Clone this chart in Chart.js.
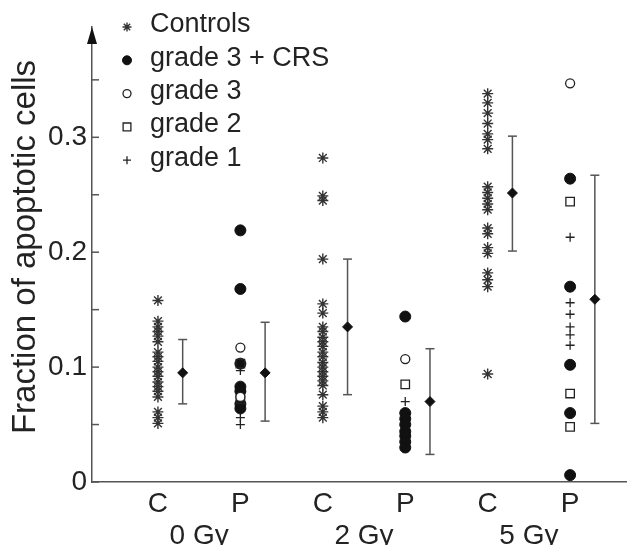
<!DOCTYPE html>
<html>
<head>
<meta charset="utf-8">
<script src="https://cdn.jsdelivr.net/npm/chart.js@4.4.1/dist/chart.umd.min.js"></script>
<style>
  html, body { margin: 0; padding: 0; background: #fff; }
  #wrap { width: 627px; height: 545px; }
</style>
</head>
<body>
<div id="wrap"><canvas id="chart" width="627" height="545"></canvas></div>
<script>
// x axis: control / patient column at each dose
const categories = ['C', 'P', 'C', 'P', 'C', 'P'];
const doses = ['0 Gy', '2 Gy', '5 Gy'];
const yTicks = [0, 0.1, 0.2, 0.3];

// controls (asterisks)
const controls0 = [0.158, 0.140, 0.135, 0.131, 0.127, 0.122, 0.113, 0.109, 0.105, 0.100,
                   0.096, 0.092, 0.087, 0.083, 0.079, 0.074, 0.061, 0.056, 0.051];
const controls2 = [0.282, 0.249, 0.245, 0.194, 0.155, 0.147, 0.135, 0.131, 0.126, 0.122,
                   0.118, 0.113, 0.109, 0.104, 0.100, 0.096, 0.092, 0.088, 0.084, 0.076,
                   0.066, 0.061, 0.056];
const controls5 = [0.338, 0.330, 0.321, 0.312, 0.303, 0.298, 0.290, 0.257, 0.252, 0.247,
                   0.242, 0.237, 0.221, 0.216, 0.204, 0.199, 0.182, 0.176, 0.170, 0.094];

// patients, by grade
const crs0 = [0.219, 0.168, 0.103, 0.083, 0.079, 0.068, 0.064];
const crs2 = [0.144, 0.060, 0.055, 0.050, 0.044, 0.040, 0.035, 0.030];
const crs5 = [0.264, 0.170, 0.102, 0.060, 0.006];
const g3_0 = [0.117, 0.074];
const g3_2 = [0.107];
const g3_5 = [0.347];
const g2_0 = [0.103, 0.072];
const g2_2 = [0.085];
const g2_5 = [0.244, 0.077, 0.048];
const g1_0 = [0.097, 0.056, 0.050];
const g1_2 = [0.070];
const g1_5 = [0.213, 0.156, 0.146, 0.135, 0.128, 0.119];

// mean and spread per column
const means   = [0.095, 0.095, 0.135, 0.070, 0.2515, 0.159];
const errLow  = [0.068, 0.053, 0.076, 0.024, 0.201, 0.051];
const errHigh = [0.124, 0.139, 0.194, 0.116, 0.301, 0.267];

const INK = '#232323';
const AXIS = '#555';
const FONT = '"Liberation Sans", Arial, sans-serif';
const barOffset = 0.3;

const col = (vals, pos) => vals.map(v => ({ x: pos, y: v }));
const spread = (a, b, c) => [...col(a, 1), ...col(b, 3), ...col(c, 5)];
const patients = (a, b, c) => [...col(a, 2), ...col(b, 4), ...col(c, 6)];

const errData = [];
means.forEach((m, i) => {
  const x = i + 1 + barOffset;
  errData.push({ x, y: errLow[i] }, { x, y: errHigh[i] }, { x, y: null });
});

// legend drawn inside the plot, top left
const legendBox = {
  id: 'legendBox',
  afterDraw(chart) {
    const { ctx } = chart;
    const draw = Chart.helpers && Chart.helpers.drawPoint;
    let row = 0;
    chart.data.datasets.forEach(ds => {
      if (!ds.label) return;
      const y = 25 + row * 33.3;
      ctx.save();
      ctx.fillStyle = ds.backgroundColor;
      ctx.strokeStyle = ds.borderColor;
      ctx.lineWidth = ds.borderWidth;
      if (draw) draw(ctx, { pointStyle: ds.pointStyle, radius: ds.legendRadius, borderWidth: ds.borderWidth, rotation: 0 }, 127, y + 2);
      ctx.fillStyle = INK;
      ctx.font = '27px ' + FONT;
      ctx.textBaseline = 'middle';
      ctx.fillText(ds.label, 150, y);
      ctx.restore();
      row++;
    });
  }
};

const decor = {
  id: 'decor',
  afterDraw(chart) {
    const { ctx, chartArea: a, scales: { y } } = chart;
    ctx.save();
    ctx.strokeStyle = AXIS;
    ctx.lineWidth = 1.5;
    y.ticks.forEach(t => {
      const py = y.getPixelForValue(t.value);
      ctx.beginPath();
      ctx.moveTo(a.left, py);
      ctx.lineTo(a.left + 7, py);
      ctx.stroke();
    });
    ctx.fillStyle = '#111';
    ctx.beginPath();
    ctx.moveTo(a.left, a.top);
    ctx.lineTo(a.left - 5, a.top + 17);
    ctx.lineTo(a.left + 5, a.top + 17);
    ctx.closePath();
    ctx.fill();

    ctx.fillStyle = INK;
    ctx.font = '33px ' + FONT;
    ctx.textAlign = 'center';
    ctx.textBaseline = 'alphabetic';
    ctx.translate(35, 247);
    ctx.rotate(-Math.PI / 2);
    ctx.fillText('Fraction of apoptotic cells', 0, 0);
    ctx.restore();
  }
};

new Chart(document.getElementById('chart'), {
  type: 'scatter',
  data: {
    datasets: [
      {
        label: 'Controls', data: spread(controls0, controls2, controls5),
        pointStyle: 'star', pointRadius: 5.5, legendRadius: 4.5,
        borderColor: '#333', backgroundColor: '#333', borderWidth: 1.4, order: 3
      },
      {
        label: 'grade 3 + CRS', data: patients(crs0, crs2, crs5),
        pointStyle: 'circle', pointRadius: 5.5, legendRadius: 4.5,
        borderColor: '#111', backgroundColor: '#111', borderWidth: 1, order: 2
      },
      {
        label: 'grade 3', data: patients(g3_0, g3_2, g3_5),
        pointStyle: 'circle', pointRadius: 4.5, legendRadius: 4,
        borderColor: '#222', backgroundColor: '#fff', borderWidth: 1.3, order: 1
      },
      {
        label: 'grade 2', data: patients(g2_0, g2_2, g2_5),
        pointStyle: 'rect', pointRadius: 6, legendRadius: 5.5,
        borderColor: '#222', backgroundColor: 'rgba(255,255,255,0)', borderWidth: 1.3, order: 1
      },
      {
        label: 'grade 1', data: patients(g1_0, g1_2, g1_5),
        pointStyle: 'cross', pointRadius: 4.5, legendRadius: 4,
        borderColor: '#222', backgroundColor: '#222', borderWidth: 1.3, order: 3
      },
      {
        data: errData, showLine: true, spanGaps: false,
        pointStyle: 'line', pointRadius: 4.5,
        borderColor: AXIS, backgroundColor: AXIS, borderWidth: 1.5, order: 5
      },
      {
        data: means.map((m, i) => ({ x: i + 1 + barOffset, y: m })),
        pointStyle: 'rectRot', pointRadius: 5,
        borderColor: '#111', backgroundColor: '#111', borderWidth: 1, order: 0
      }
    ]
  },
  options: {
    responsive: false,
    animation: false,
    events: [],
    layout: { autoPadding: false, padding: { top: 27, right: 0, bottom: 0, left: 0 } },
    plugins: { legend: { display: false }, tooltip: { enabled: false } },
    scales: {
      x: {
        type: 'linear', min: 0.2, max: 6.69,
        grid: { display: false, drawTicks: false },
        border: { color: AXIS, width: 1.5 },
        afterFit: s => { s.height = 63; s.paddingLeft = 0; s.paddingRight = 0; },
        afterBuildTicks: s => {
          s.ticks = [1, 1.5, 2, 3, 3.5, 4, 5, 5.5, 6].map(v => ({ value: v }));
        },
        ticks: {
          autoSkip: false, maxRotation: 0, padding: 7,
          color: INK, font: { family: FONT, size: 28, lineHeight: 1.12 },
          callback: v => Number.isInteger(v) ? categories[v - 1] : ['', doses[(v - 1.5) / 2]]
        }
      },
      y: {
        min: 0, max: 0.396,
        grid: { display: false, drawTicks: false },
        border: { color: AXIS, width: 1.5 },
        afterFit: s => { s.width = 92; s.paddingTop = 0; s.paddingBottom = 0; },
        ticks: {
          stepSize: 0.05, includeBounds: false, padding: 5,
          color: INK, font: { family: FONT, size: 28 },
          callback: v => yTicks.some(t => Math.abs(t - v) < 1e-6) ? (v === 0 ? '0' : v.toFixed(1)) : ''
        }
      }
    }
  },
  plugins: [decor, legendBox]
});
</script>
</body>
</html>
